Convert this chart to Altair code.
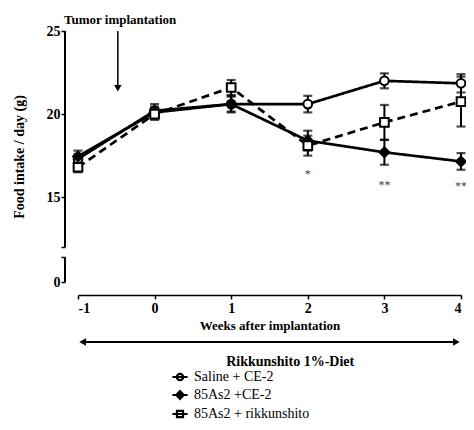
import altair as alt
import pandas as pd

# ---------------- data ----------------
weeks = [-1, 0, 1, 2, 3, 4]
series_names = ["Saline + CE-2", "85As2 +CE-2", "85As2 + rikkunshito"]
saline_mean = [17.3, 20.2, 20.6, 20.6, 22.0, 21.85]
saline_sem = [0.3, 0.4, 0.45, 0.5, 0.45, 0.55]
ce2_mean = [17.45, 20.1, 20.6, 18.4, 17.7, 17.15]
ce2_sem = [0.35, 0.35, 0.5, 0.6, 0.75, 0.5]
rik_mean = [16.8, 20.0, 21.6, 18.1, 19.5, 20.75]
rik_sem = [0.3, 0.35, 0.45, 0.6, 1.05, 1.5]

sig_weeks = [2, 3, 4]
sig_labels = ["*", "**", "**"]
sig_y = [16.4, 15.75, 15.7]

y_ticks = [0, 1.5, 12, 15, 20, 25]
x_ticks = [-1, 0, 1, 2, 3, 4]

means = [saline_mean, ce2_mean, rik_mean]
sems = [saline_sem, ce2_sem, rik_sem]
shapes = ["circle", "diamond", "square"]
fills = ["white", "black", "white"]
sizes = [75, 95, 75]
dashes = [[1, 0], [1, 0], [8, 5]]

rows = []
for name, m, s in zip(series_names, means, sems):
    for w, mv, sv in zip(weeks, m, s):
        rows.append({"series": name, "week": w, "mean": mv,
                     "lo": mv - sv, "hi": mv + sv})
df = pd.DataFrame(rows)

FONT = "Liberation Serif"

xscale = alt.Scale(domain=[-1, 4], nice=False, zero=False)
yscale = alt.Scale(domain=[0, 1.5, 12, 25], range=[251, 226, 216, 0],
                   nice=False, zero=False, clamp=False)

xaxis = alt.Axis(values=x_ticks, title="Weeks after implantation", offset=13,
                 grid=False, labelFont=FONT, labelFontWeight="bold", labelFontSize=14,
                 titleFont=FONT, titleFontWeight="bold", titleFontSize=13,
                 titleColor="black", labelColor="black", domainColor="black",
                 tickColor="black", domainWidth=1.5, tickWidth=1.5, tickSize=4,
                 labelPadding=2, titlePadding=4, labelExpr="'' + datum.value")
yaxis = alt.Axis(values=y_ticks, title="Food intake / day (g)", offset=13,
                 domain=False, grid=False,
                 labelExpr="(datum.value == 1.5 || datum.value == 12) ? '' : datum.label",
                 labelFont=FONT, labelFontWeight="bold", labelFontSize=14,
                 titleFont=FONT, titleFontWeight="bold", titleFontSize=14,
                 titleColor="black", labelColor="black", tickColor="black",
                 tickWidth=1.5, tickSize=4, labelPadding=1, titlePadding=20)

base = alt.Chart(df)

layers = []
# broken y-axis segments
layers.append(base.mark_rule(color="black", strokeWidth=1.5).encode(
    x=alt.value(-13), y=alt.datum(12, scale=yscale), y2=alt.datum(25)))
layers.append(base.mark_rule(color="black", strokeWidth=1.5).encode(
    x=alt.value(-13), y=alt.datum(0), y2=alt.datum(1.5)))

for i, name in enumerate(series_names):
    sub = base.transform_filter(alt.datum.series == name)
    layers.append(sub.mark_rule(color="black", strokeWidth=2).encode(
        x=alt.X("week:Q", scale=xscale, axis=xaxis),
        y=alt.Y("lo:Q", scale=yscale, axis=yaxis), y2="hi:Q"))
    for f in ["lo", "hi"]:
        layers.append(sub.mark_tick(color="black", thickness=2.2, size=9,
                                    orient="horizontal").encode(
            x="week:Q", y=f"{f}:Q"))
for i, name in enumerate(series_names):
    sub = base.transform_filter(alt.datum.series == name)
    layers.append(sub.mark_line(color="black", strokeWidth=2.7,
                                strokeDash=dashes[i]).encode(
        x="week:Q", y="mean:Q"))
for i, name in enumerate(series_names):
    sub = base.transform_filter(alt.datum.series == name)
    layers.append(sub.mark_point(shape=shapes[i], filled=True, fill=fills[i],
                                 stroke="black", strokeWidth=2, size=sizes[i],
                                 opacity=1).encode(
        x="week:Q", y="mean:Q"))

# significance marks
sig_df = pd.DataFrame({"week": sig_weeks, "label": sig_labels, "y": sig_y})
layers.append(alt.Chart(sig_df).mark_text(font=FONT, fontSize=12, color="#444444",
                                          baseline="middle").encode(
    x="week:Q", y="y:Q", text="label:N"))

# Tumor implantation annotation
ann = alt.Chart(pd.DataFrame({"t": ["Tumor implantation"]}))
layers.append(ann.mark_text(font=FONT, fontWeight="bold", fontSize=13,
                            color="black", baseline="middle").encode(
    x=alt.datum(-0.45), y=alt.value(-11), text="t:N"))
layers.append(ann.mark_rule(color="black", strokeWidth=1.5).encode(
    x=alt.datum(-0.48), y=alt.datum(25), y2=alt.datum(21.7)))
layers.append(ann.mark_point(shape="triangle-down", filled=True, color="black",
                             size=55, opacity=1).encode(
    x=alt.datum(-0.48), y=alt.datum(21.55)))

# Diet period arrow
diet = alt.Chart(pd.DataFrame({"t": ["Rikkunshito 1%-Diet"]}))
layers.append(diet.mark_rule(color="black", strokeWidth=2).encode(
    x=alt.datum(-0.95), x2=alt.datum(3.95), y=alt.value(311)))
layers.append(diet.mark_point(shape="triangle-left", filled=True, color="black",
                              size=60, opacity=1).encode(
    x=alt.datum(-0.94), y=alt.value(311)))
layers.append(diet.mark_point(shape="triangle-right", filled=True, color="black",
                              size=60, opacity=1).encode(
    x=alt.datum(3.94), y=alt.value(311)))
layers.append(diet.mark_text(font=FONT, fontWeight="bold", fontSize=14,
                             color="black", baseline="middle").encode(
    x=alt.datum(1.77), y=alt.value(331), text="t:N"))

# legend-only layer (points lie outside the clipped view)
leg_paths = [
    "M-1,0H1M-0.42,0A0.42,0.42 0 1,0 0.42,0A0.42,0.42 0 1,0 -0.42,0Z",
    "M-1,0H1M0,-0.52L0.48,0L0,0.52L-0.48,0Z",
    "M-1,0H1M-0.4,-0.4H0.4V0.4H-0.4Z",
]
leg_df = pd.DataFrame({"lseries": series_names, "week": [10, 10, 10], "mean": [20, 20, 20]})


def mk_legend():
    return alt.Legend(title=None, orient="none", legendX=93, legendY=337,
                      labelFont=FONT, labelFontSize=14, labelColor="black",
                      symbolStrokeWidth=2.2, symbolSize=230, rowPadding=1,
                      labelOffset=5)


layers.append(alt.Chart(leg_df).mark_point(clip=True, size=230, strokeWidth=2.2,
                                           opacity=1, filled=True).encode(
    x="week:Q", y="mean:Q",
    shape=alt.Shape("lseries:N", scale=alt.Scale(domain=series_names, range=leg_paths),
                    legend=mk_legend()),
    fill=alt.Fill("lseries:N", scale=alt.Scale(domain=series_names, range=fills),
                  legend=mk_legend()),
    stroke=alt.Stroke("lseries:N",
                      scale=alt.Scale(domain=series_names, range=["black", "black", "black"]),
                      legend=mk_legend()),
))

chart = alt.layer(*layers).properties(
    width=383, height=251,
    autosize=alt.AutoSizeParams(type="none"),
    padding={"left": 70, "top": 23, "right": 5, "bottom": 140},
    background="white",
).configure_view(stroke=None)

chart.save("out.html", embed_options={"renderer": "svg", "actions": False})
